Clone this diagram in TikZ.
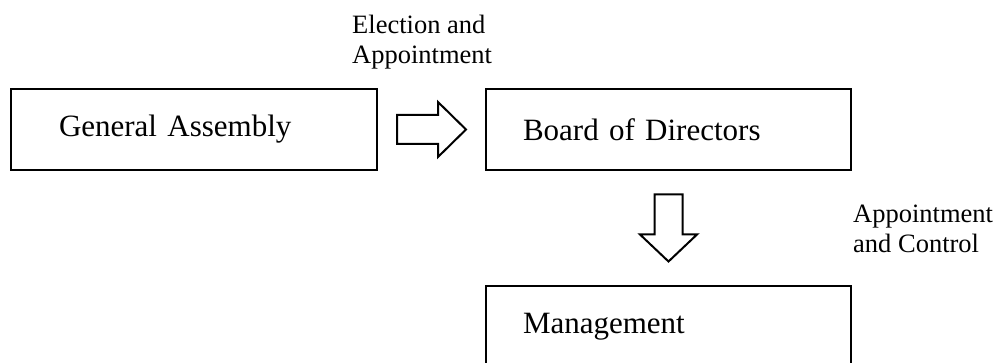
\documentclass[tikz,border=0pt]{standalone}
\usepackage{fontspec}
\setmainfont{Liberation Serif}
\usetikzlibrary{calc}

\begin{document}
\begin{tikzpicture}
        [%%%%%%%%%%%%%%%%%%%%%%%%%%%%%%
        x=1pt, y=-1pt,
        box/.style={rectangle,draw=black,line width=2.2pt,minimum height=81pt,align=left,font=\fontsize{31}{36}\selectfont},
        hollow/.style={draw=black,line width=2pt,fill=white,line join=miter},
        note/.style={align=left,inner sep=0pt,font=\fontsize{26.5}{30}\selectfont},
        ]%%%%%%%%%%%%%%%%%%%%%%%%%%%%%%

        \useasboundingbox (0,0) rectangle (998,363);
        \clip (0,0) rectangle (998,363);

        \node[box,minimum width=366pt,text width=270pt,inner xsep=48pt] (assembly) at (194,129.5) {General Assembly};
        \node[box,minimum width=365pt,text width=291pt,inner xsep=37pt] (board) at (668.5,129.5) {Board of Directors};
        \node[box,minimum width=365pt,text width=291pt,inner xsep=37pt] (mgmt) at (668.5,326.5) {Management};

        \coordinate (toboard) at ($(assembly.east)!0.5!(board.west)$);
        \coordinate (tomgmt) at ($(board.south)!0.5!(mgmt.north)$);

        \draw[hollow,shift={(toboard)}] (-34.5,-14.5) -- (6.5,-14.5) -- (6.5,-27.5) -- (34.5,0)
              -- (6.5,27.5) -- (6.5,14.5) -- (-34.5,14.5) -- cycle;
        \draw[hollow,shift={(tomgmt)}] (-14,-33.5) -- (14,-33.5) -- (14,6.5) -- (28.5,6.5) -- (0,33.5)
              -- (-28.5,6.5) -- (-14,6.5) -- cycle;

        \node[note,anchor=base west] (elect) at (352,64) {Election and\\Appointment};
        \node[note,anchor=base west] (control) at (853,253) {Appointment\\and Control};

      \end{tikzpicture}
\end{document}
